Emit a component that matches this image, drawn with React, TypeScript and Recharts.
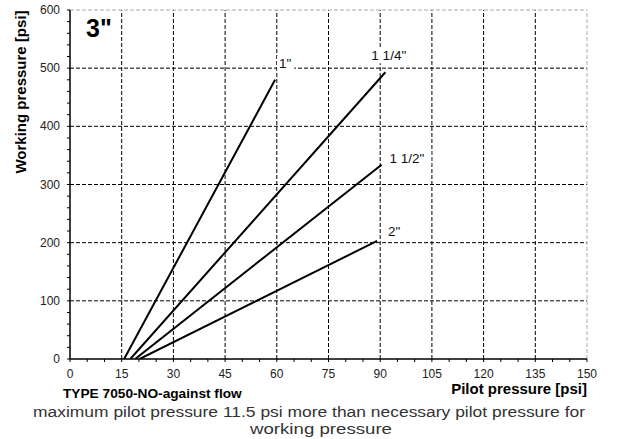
import React from "react";
import { LineChart, Line, XAxis, YAxis, ReferenceLine, LabelList } from "recharts";

// pilot pressure [psi] -> working pressure [psi], one pair of points per valve size
const size1 = [
  { x: 15.7, y: 0 },
  { x: 59.5, y: 480 },
];
const size114 = [
  { x: 17.5, y: 0 },
  { x: 91.5, y: 493 },
];
const size112 = [
  { x: 18.9, y: 0 },
  { x: 90.4, y: 334 },
];
const size2 = [
  { x: 20.2, y: 0 },
  { x: 89.1, y: 203 },
];

const xTicks = [
  0, 5, 10, 15, 20, 25, 30, 35, 40, 45, 50, 55, 60, 65, 70, 75, 80, 85, 90, 95,
  100, 105, 110, 115, 120, 125, 130, 135, 140, 145, 150,
];
const xMajor = [0, 15, 30, 45, 60, 75, 90, 105, 120, 135, 150];
const yTicks = [
  0, 20, 40, 60, 80, 100, 120, 140, 160, 180, 200, 220, 240, 260, 280, 300, 320,
  340, 360, 380, 400, 420, 440, 460, 480, 500, 520, 540, 560, 580, 600,
];
const yMajor = [0, 100, 200, 300, 400, 500, 600];

const series = [
  { name: '1"', data: size1, dx: 4, dy: -12 },
  { name: '1 1/4"', data: size114, dx: -14, dy: -12 },
  { name: '1 1/2"', data: size112, dx: 8, dy: -2 },
  { name: '2"', data: size2, dx: 11, dy: -5 },
];

const FONT = '"Liberation Sans", Arial, Helvetica, sans-serif';

const XTick = (props: any) => {
  const { x, y, payload } = props;
  if (!xMajor.includes(payload.value)) return null;
  return (
    <text x={x} y={y} dy={14} textAnchor="middle" fontSize={12} fill="#222" fontFamily={FONT}>
      {payload.value}
    </text>
  );
};

const YTick = (props: any) => {
  const { x, y, payload } = props;
  if (!yMajor.includes(payload.value)) return null;
  return (
    <text x={x - 5} y={y} dy={4} textAnchor="end" fontSize={12} fill="#222" fontFamily={FONT}>
      {payload.value}
    </text>
  );
};

// size label at the end point of each line, on a white patch that breaks the grid
const endLabel = (name: string, dx: number, dy: number) => (props: any) => {
  const { x, y, index } = props;
  if (index !== 1) return null;
  const w = name.length * 6.6 + 4;
  return (
    <g>
      <rect x={x + dx - 2} y={y + dy - 12} width={w} height={15} fill="#fff" />
      <text x={x + dx} y={y + dy} fontSize={13.5} fill="#111" fontFamily={FONT}>
        {name}
      </text>
    </g>
  );
};

export default function App() {
  return (
    <div style={{ position: "absolute", left: 0, top: 0, width: 619, height: 439, background: "#fff" }}>
      <LineChart width={619} height={439} margin={{ top: 10, right: 32, bottom: 50, left: 0 }}>
        <XAxis
          type="number"
          dataKey="x"
          domain={[0, 150]}
          ticks={xTicks}
          interval={0}
          height={30}
          tickSize={3}
          tick={<XTick />}
          axisLine={{ stroke: "#000", strokeWidth: 1.5 }}
          tickLine={{ stroke: "#000" }}
          allowDataOverflow
        />
        <YAxis
          type="number"
          dataKey="y"
          domain={[0, 600]}
          ticks={yTicks}
          interval={0}
          width={70}
          tickSize={3}
          tick={<YTick />}
          axisLine={{ stroke: "#000", strokeWidth: 1.5 }}
          tickLine={{ stroke: "#000" }}
          allowDataOverflow
        />
        {xMajor.slice(1, -1).map((v) => (
          <ReferenceLine key={"x" + v} x={v} stroke="#000" strokeDasharray="4 2" />
        ))}
        {yMajor.slice(1, -1).map((v) => (
          <ReferenceLine key={"y" + v} y={v} stroke="#000" strokeDasharray="4 2" />
        ))}
        <ReferenceLine x={150} stroke="#aaa" strokeDasharray="4 2" />
        <ReferenceLine y={600} stroke="#aaa" strokeDasharray="4 2" />
        {series.map((s) => (
          <Line
            key={s.name}
            data={s.data}
            dataKey="y"
            stroke="#000"
            strokeWidth={2}
            dot={false}
            activeDot={false}
            isAnimationActive={false}
          >
            <LabelList dataKey="y" content={endLabel(s.name, s.dx, s.dy)} />
          </Line>
        ))}
      </LineChart>
      <svg
        width={619}
        height={439}
        style={{ position: "absolute", left: 0, top: 0, pointerEvents: "none" }}
        fontFamily={FONT}
      >
        <text x={86} y={37} fontSize={25} fontWeight="bold" fill="#000">
          3"
        </text>
        <text
          x={20}
          y={92}
          fontSize={15}
          fontWeight="bold"
          fill="#000"
          textAnchor="middle"
          dominantBaseline="central"
          transform="rotate(-90 20 92)"
        >
          Working pressure [psi]
        </text>
        <text x={63} y={398} fontSize={13.7} fontWeight="bold" fill="#000">
          TYPE 7050-NO-against flow
        </text>
        <text x={587} y={394} fontSize={15} fontWeight="bold" fill="#000" textAnchor="end">
          Pilot pressure [psi]
        </text>
        <text x={33} y={417} fontSize={14} fill="#333" textLength={552} lengthAdjust="spacingAndGlyphs">
          maximum pilot pressure 11.5 psi more than necessary pilot pressure for
        </text>
        <text x={250} y={434} fontSize={14} fill="#333" textLength={142} lengthAdjust="spacingAndGlyphs">
          working pressure
        </text>
      </svg>
    </div>
  );
}
